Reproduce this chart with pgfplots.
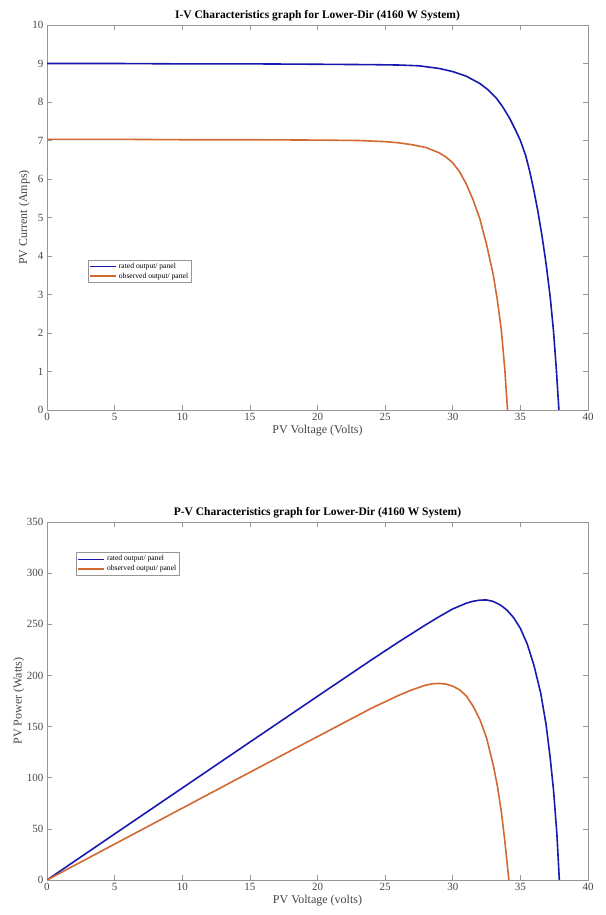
\documentclass[border=0pt]{standalone}
\usepackage{fontspec}
\setmainfont{Liberation Serif}
\usepackage{pgfplots}
\pgfplotsset{compat=1.18}
\definecolor{mblue}{RGB}{25,25,175}
\definecolor{morange}{RGB}{210,105,50}
\definecolor{axgray}{RGB}{150,150,150}
\definecolor{txgray}{RGB}{70,70,70}
\pgfplotsset{
  mystyle/.style={
    scale only axis,
    width=541pt,
    xmin=0, xmax=40,
    xtick={0,5,...,40},
    axis line style={axgray, line width=0.6pt},
    tick style={axgray, line width=0.6pt},
    major tick length=5pt,
    tick align=inside,
    ticklabel style={font=\fontsize{11}{13}\selectfont, text=txgray},
    label style={font=\fontsize{12}{14}\selectfont, text=txgray},
    title style={font=\bfseries\fontsize{11.5}{13}\selectfont, yshift=-6pt},
    /pgf/number format/assume math mode=true,
    legend cell align=left,
    legend style={draw=axgray, fill=white, font=\fontsize{7.6}{9}\selectfont, inner sep=1pt, row sep=-1pt},
    legend image code/.code={\draw[#1] (0cm,0cm) -- (0.9cm,0cm);},
    every axis plot/.append style={line join=round},
  }
}
\begin{document}
\begin{tikzpicture}
\useasboundingbox (0,0) rectangle (605pt,915pt);
\begin{axis}[mystyle,
  at={(47pt,505pt)}, anchor=south west,
  height=385pt,
  ymin=0, ymax=10, ytick={0,1,...,10},
  title={I-V Characteristics graph for Lower-Dir (4160 W System)},
  xlabel={PV Voltage (Volts)},
  ylabel={PV Current (Amps)},
  xlabel style={yshift=3pt},
  ylabel style={yshift=-4pt},
  legend style={at={(0.076,0.39)}, anchor=north west},
]
\addlegendimage{mblue, line width=0.6pt}
\addlegendentry{rated output/ panel}
\addlegendimage{morange, line width=2pt}
\addlegendentry{observed output/ panel}
\addplot[mblue, line width=1.6pt, forget plot] coordinates {
(0,9.00) (5,9.00) (10,8.99) (15,8.99) (20,8.98) (24,8.97) (26,8.96) (27.5,8.94)
(29,8.87) (30,8.79) (31,8.67) (32,8.48) (32.6,8.32) (33.2,8.11) (33.7,7.87)
(34.2,7.58) (34.6,7.30) (35,7.00) (35.4,6.60) (35.7,6.18) (36,5.70) (36.3,5.15)
(36.6,4.52) (36.9,3.80) (37.2,2.95) (37.45,2.05) (37.65,1.10) (37.85,0)
};
\addplot[morange, line width=1.6pt, forget plot] coordinates {
(0,7.03) (5,7.03) (10,7.02) (15,7.02) (20,7.01) (23,7.00) (25,6.97) (26,6.94)
(27,6.89) (28,6.82) (29,6.68) (29.5,6.57) (30,6.42) (30.5,6.19) (31,5.87)
(31.5,5.46) (32,4.97) (32.5,4.30) (33,3.50) (33.3,2.85) (33.6,2.05)
(33.85,1.05) (34.05,0)
};
\end{axis}
\begin{axis}[mystyle,
  at={(47pt,35pt)}, anchor=south west,
  height=358pt,
  ymin=0, ymax=350, ytick={0,50,...,350},
  title={P-V Characteristics graph for Lower-Dir (4160 W System)},
  xlabel={PV Voltage (volts)},
  ylabel={PV Power (Watts)},
  xlabel style={yshift=3pt},
  ylabel style={yshift=-4pt},
  legend style={at={(0.054,0.915)}, anchor=north west},
]
\addlegendimage{mblue, line width=0.6pt}
\addlegendentry{rated output/ panel}
\addlegendimage{morange, line width=2pt}
\addlegendentry{observed output/ panel}
\addplot[mblue, line width=1.6pt, forget plot] coordinates {
(0,0) (5,45.0) (10,89.9) (15,134.8) (20,179.6) (24,215.3) (26,232.7) (28,249.5)
(29,257.5) (30,265.0) (31,270.6) (31.5,272.5) (32,273.6) (32.5,273.8) (33,272.3)
(33.5,269.0) (34,264.0) (34.5,256.5) (35,246.0) (35.5,231.0) (36,210.0)
(36.5,183.0) (36.9,152.0) (37.2,120.0) (37.45,88.0) (37.7,45.0) (37.88,0)
};
\addplot[morange, line width=1.6pt, forget plot] coordinates {
(0,0) (5,35.1) (10,70.2) (15,105.3) (20,140.2) (24,168.0) (26,180.5) (27,186.0)
(28,190.5) (28.5,191.8) (29,192.2) (29.5,191.5) (30,189.5) (30.5,186.0)
(31,180.0) (31.5,170.0) (32,157.0) (32.5,139.0) (33,112.0)
(33.3,92.0) (33.6,66.0) (33.85,38.0) (34.15,0)
};
\end{axis}
\end{tikzpicture}
\end{document}
